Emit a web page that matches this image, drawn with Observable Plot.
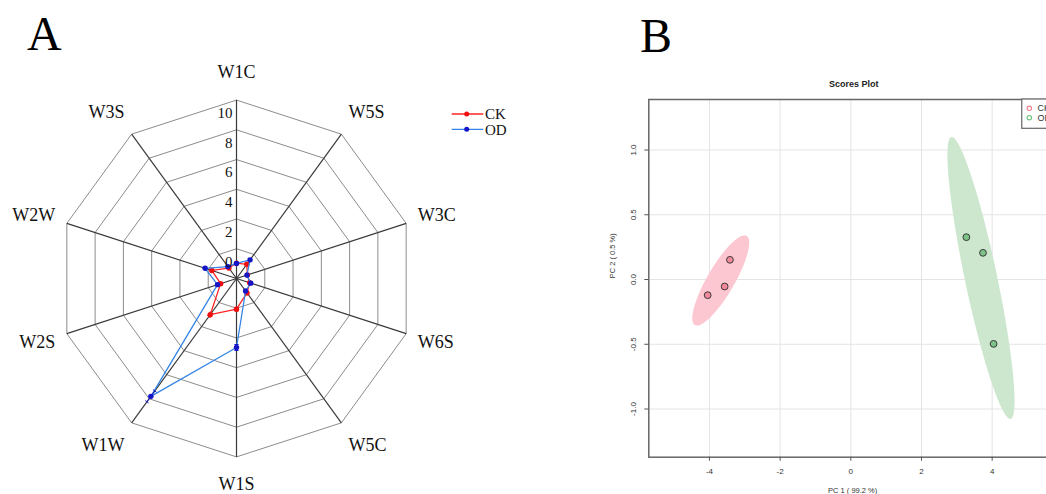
<!DOCTYPE html>
<html><head><meta charset="utf-8">
<script src="https://cdn.jsdelivr.net/npm/d3@7"></script>
<script src="https://cdn.jsdelivr.net/npm/@observablehq/plot@0.6"></script>
<style>
html,body{margin:0;padding:0;background:#fff;overflow:hidden;}
#wrap{position:relative;width:1046px;height:494px;overflow:hidden;background:#fff;}
#wrap > svg, #wrap > figure, .layer{position:absolute;top:0;}
.panel-label{position:absolute;font-family:"Liberation Serif","Times New Roman",serif;font-size:48px;line-height:1;color:#000;}
</style></head><body><div id="wrap"></div>
<script>
// ---------- Panel A data (radar) ----------
const sensors = ["W1C","W5S","W3C","W6S","W5C","W1S","W1W","W2S","W2W","W3S"];
const ckValues = [-0.97,-0.82,-1.23,-1.07,-0.80,0.06,1.01,-0.88,-0.25,-1.13];
const odValues = [-0.99,-0.45,-1.26,-0.99,-0.96,2.64,7.80,-0.66,0.22,-1.01];
const ckErrors = [0.05,0.05,0.05,0.05,0.05,0.12,0.15,0.05,0.05,0.05];
const odErrors = [0.05,0.05,0.05,0.05,0.05,0.20,0.45,0.08,0.08,0.05];
const radarTicks = [0,2,4,6,8,10];
const radarMin = -2;
const radarSeries = ["CK","OD"];

// ---------- Panel B data (PCA scores) ----------
const groups = ["CK","OD"];
const ckPC1 = [-3.42,-3.57,-4.05];
const ckPC2 = [0.152,-0.054,-0.121];
const odPC1 = [3.27,3.74,4.04];
const odPC2 = [0.327,0.206,-0.497];
const pc1Ticks = [-4,-2,0,2,4];
const pc2Ticks = [-1,-0.5,0,0.5,1];

const wrap = document.getElementById("wrap");
const serif = "Liberation Serif, Times New Roman, serif";
const sans = "Liberation Sans, Arial, sans-serif";

// ---------- Radar ----------
const TAU = 2*Math.PI;
const ang = i => i*TAU/sensors.length;
const rr = v => v - radarMin;
const px = (v,i) => rr(v)*Math.sin(ang(i));
const py = (v,i) => rr(v)*Math.cos(ang(i));

const ringRows = [];
radarTicks.forEach(t => { for (let i=0;i<=sensors.length;i++) ringRows.push({ring:t, x:px(t,i%sensors.length), y:py(t,i%sensors.length)}); });

const seriesValues = {CK: ckValues, OD: odValues};
const seriesErrors = {CK: ckErrors, OD: odErrors};
const radarRows = [];
radarSeries.forEach(s => sensors.forEach((name,i) => radarRows.push({series:s, sensor:name, i, value:seriesValues[s][i], err:seriesErrors[s][i]})));
const capRows = [];
const capHalf = 0.14;
radarRows.forEach(d => [d.value-d.err, d.value+d.err].forEach(v => {
  const c = Math.cos(ang(d.i)), s = Math.sin(ang(d.i));
  capRows.push({series:d.series, x1:px(v,d.i)-capHalf*c, y1:py(v,d.i)+capHalf*s, x2:px(v,d.i)+capHalf*c, y2:py(v,d.i)-capHalf*s});
}));
const lineColor = {CK:"#ff2424", OD:"#3485e8"};
const dotColor = {CK:"#ee0f0f", OD:"#1414c8"};
const outer = radarTicks[radarTicks.length-1];

const seriesMarks = radarSeries.flatMap(s => {
  const rows = radarRows.filter(d => d.series===s);
  return [
    Plot.line(rows, {x:d=>px(d.value,d.i), y:d=>py(d.value,d.i), curve:"linear-closed", stroke:lineColor[s], strokeWidth:1.3}),
    Plot.link(rows, {x1:d=>px(d.value-d.err,d.i), y1:d=>py(d.value-d.err,d.i), x2:d=>px(d.value+d.err,d.i), y2:d=>py(d.value+d.err,d.i), stroke:dotColor[s], strokeWidth:1}),
    Plot.link(capRows.filter(d=>d.series===s), {x1:"x1", y1:"y1", x2:"x2", y2:"y2", stroke:dotColor[s], strokeWidth:1}),
    Plot.dot(rows, {x:d=>px(d.value,d.i), y:d=>py(d.value,d.i), r:2.7, fill:dotColor[s], stroke:"none"})
  ];
});

// label placement: inner edge of side labels at a fixed radius, top/bottom centred
const sideOf = i => { const s = Math.sin(ang(i)); return Math.abs(s) < 0.1 ? 0 : Math.sign(s); };
const labelMarks = [-1,0,1].map(side => {
  const idx = sensors.map((d,i)=>i).filter(i => sideOf(i)===side);
  return Plot.text(idx, {
    x: i => 12.82*Math.sin(ang(i)), y: i => 13.85*Math.cos(ang(i)), text: i => sensors[i],
    textAnchor: side < 0 ? "end" : side > 0 ? "start" : "middle", lineAnchor:"middle",
    fontSize:18, fontFamily:serif, fill:"#111"
  });
});

const radar = Plot.plot({
  width: 560, height: 494,
  marginTop:0, marginBottom:0, marginLeft:0, marginRight:0,
  x: {domain:[-12,12], range:[57.6,414.4], axis:null},
  y: {domain:[-12,12], range:[456.4,99.6], axis:null},
  style: {overflow:"visible", background:"transparent"},
  marks: [
    Plot.line(ringRows, {x:"x", y:"y", z:"ring", stroke:"#8c8c8c", strokeWidth:1}),
    Plot.link(sensors, {x1:0, y1:0, x2:(d,i)=>px(outer,i), y2:(d,i)=>py(outer,i), stroke:"#3a3a3a", strokeWidth:1.2}),
    ...seriesMarks,
    Plot.text(radarTicks, {x:0, y:t=>rr(t), text:t=>String(t), textAnchor:"end", lineAnchor:"middle", dx:-4, dy:13, fontSize:15, fontFamily:serif, fill:"#111"}),
    ...labelMarks
  ]
});
radar.style.left = "0px";
wrap.appendChild(radar);

// Legend A
const legA = d3.select(wrap).append("svg").attr("class","layer").attr("width",120).attr("height",50)
  .style("left","440px").style("top","100px");
radarSeries.forEach((s,k) => {
  const y = 14 + k*15.3;
  legA.append("line").attr("x1",11.7).attr("x2",43.3).attr("y1",y).attr("y2",y).attr("stroke",lineColor[s]).attr("stroke-width",1.3);
  legA.append("circle").attr("cx",26.7).attr("cy",y).attr("r",2.5).attr("fill",dotColor[s]);
  legA.append("text").attr("x",45).attr("y",y).attr("dy","0.35em").attr("font-family",serif).attr("font-size",15).attr("fill","#111").text(s);
});

// ---------- PCA scores ----------
function ellipse(xs, ys, k=5.991, n=160) {
  const mx = d3.mean(xs), my = d3.mean(ys);
  const sxx = d3.variance(xs), syy = d3.variance(ys);
  const sxy = d3.sum(xs.map((x,i)=>(x-mx)*(ys[i]-my)))/(xs.length-1);
  const tr = sxx+syy, det = sxx*syy - sxy*sxy;
  const disc = Math.sqrt(Math.max(0, tr*tr/4 - det));
  const l1 = tr/2 + disc, l2 = Math.max(0, tr/2 - disc);
  const th = Math.atan2(l1 - sxx, sxy);
  return d3.range(n+1).map(j => {
    const t = j/n*TAU, a = Math.sqrt(k*l1)*Math.cos(t), b = Math.sqrt(k*l2)*Math.sin(t);
    return {x: mx + a*Math.cos(th) - b*Math.sin(th), y: my + a*Math.sin(th) + b*Math.cos(th)};
  });
}
const pc = {CK:{x:ckPC1, y:ckPC2}, OD:{x:odPC1, y:odPC2}};
const ellFill = {CK:"#fcc7d0", OD:"#cde7cf"};
const ptFill = {CK:"#f2899a", OD:"#7cc387"};
const legStroke = {CK:"#f27c8c", OD:"#6cbf78"};

const W = 520, mL = 88.3, mR = 18, mT = 99, mB = 37.3;
const scores = Plot.plot({
  width: W, height: 494,
  marginLeft:mL, marginRight:mR, marginTop:mT, marginBottom:mB,
  x: {domain:[-5.716,5.99], range:[mL, W-mR]},
  y: {domain:[-1.372,1.39], range:[494-mB, mT]},
  style: {overflow:"visible", background:"transparent", fontFamily:sans},
  marks: [
    Plot.ruleX(pc1Ticks, {stroke:"#e4e4e4", strokeWidth:1}),
    Plot.ruleY(pc2Ticks, {stroke:"#e4e4e4", strokeWidth:1}),
    ...groups.map(g => Plot.line(ellipse(pc[g].x, pc[g].y), {x:"x", y:"y", fill:ellFill[g], stroke:"none"})),
    ...groups.map(g => Plot.dot(pc[g].x.map((x,i)=>({x, y:pc[g].y[i]})), {x:"x", y:"y", r:3.4, fill:ptFill[g], stroke:"#3a3a3a", strokeWidth:1})),
    Plot.frame({stroke:"#666", strokeWidth:1.5}),
    Plot.axisX(pc1Ticks, {anchor:"bottom", tickSize:4, tickPadding:7, tickFormat:d=>String(d), fontSize:8, fill:"#333", stroke:"#555", label:null}),
    Plot.axisY(pc2Ticks, {anchor:"left", tickSize:4, tickFormat:()=>"", stroke:"#555", label:null}),
    Plot.text(pc2Ticks, {y:d=>d, frameAnchor:"left", dx:-15.5, rotate:-90, text:d=>d.toFixed(1), textAnchor:"middle", lineAnchor:"middle", fontSize:8, fill:"#333"}),
    Plot.text(["PC 1 ( 99.2 %)"], {frameAnchor:"bottom", dx:-3, dy:33, lineAnchor:"middle", fontSize:7.5, fill:"#333"}),
    Plot.text(["PC 2 ( 0.5 %)"], {frameAnchor:"left", dx:-36, rotate:-90, lineAnchor:"middle", fontSize:7.5, fill:"#333"}),
    Plot.text(["Scores Plot"], {frameAnchor:"top", dx:-2, dy:-15, lineAnchor:"middle", fontSize:9, fontWeight:"bold", fill:"#222"})
  ]
});
scores.style.left = "560px";
wrap.appendChild(scores);

// Legend B
const legB = d3.select(wrap).append("svg").attr("class","layer").attr("width",60).attr("height",40)
  .style("left","1021px").style("top","98px");
legB.append("rect").attr("x",0.75).attr("y",1).attr("width",70).attr("height",29.3).attr("fill","#fff").attr("stroke","#666").attr("stroke-width",1.2);
groups.forEach((g,k) => {
  const y = 10.3 + k*9.4;
  legB.append("circle").attr("cx",8.3).attr("cy",y).attr("r",2.2).attr("fill","none").attr("stroke",legStroke[g]).attr("stroke-width",1.1);
  legB.append("text").attr("x",16.5).attr("y",y).attr("dy","0.35em").attr("font-family",sans).attr("font-size",9).attr("fill","#333").text(g);
});

// Panel labels
const la = document.createElement("div"); la.className="panel-label"; la.textContent="A"; la.style.left="27px"; la.style.top="10px"; wrap.appendChild(la);
const lb = document.createElement("div"); lb.className="panel-label"; lb.textContent="B"; lb.style.left="640px"; lb.style.top="12px"; wrap.appendChild(lb);
</script></body></html>
